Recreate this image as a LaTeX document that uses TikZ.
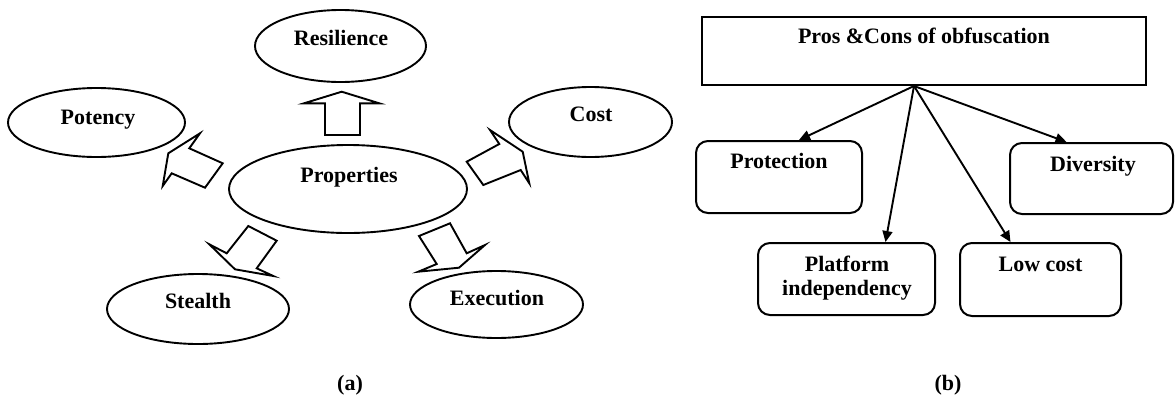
\documentclass[tikz,border=0pt]{standalone}
\usepackage{fontspec}
\setmainfont{Liberation Serif}
\usetikzlibrary{shapes.geometric,arrows.meta,calc}
\begin{document}
\begin{tikzpicture}[x=1pt,y=-1pt,
  ell/.style={draw, ellipse, line width=1.9pt, inner sep=0pt},
  bx/.style={draw, line width=2pt, inner sep=0pt, rounded corners=12pt},
  topbox/.style={draw, line width=2pt, inner sep=0pt},
  txt/.style={anchor=base, inner sep=0pt, align=center, font=\fontsize{22}{24}\selectfont\bfseries},
  blk/.style={draw, line width=1.9pt, line join=miter},
  con/.style={line width=1.9pt, -{Triangle[length=11pt,width=10pt]}}]

\fill[white] (0,0) rectangle (1175,397);
\useasboundingbox (0,0) rectangle (1175,397);

% (a) ellipses
\node[ell, minimum width=171pt, minimum height=72pt] (res) at (340.5,46) {};
\node[ell, minimum width=177pt, minimum height=69pt] (pot) at (96.5,122.5) {};
\node[ell, minimum width=163pt, minimum height=70pt] (cost) at (590.5,122) {};
\node[ell, minimum width=238pt, minimum height=88pt] (prop) at (348,189) {};
\node[ell, minimum width=182pt, minimum height=70pt] (ste) at (198,309) {};
\node[ell, minimum width=173pt, minimum height=67pt] (exe) at (496.5,304.5) {};

\node[txt] (tres) at (341,45) {Resilience};
\node[txt] (tpot) at (98,124) {Potency};
\node[txt] (tcost) at (591,121) {Cost};
\node[txt] (tprop) at (349,182) {Properties};
\node[txt] (tste) at (198,308) {Stealth};
\node[txt] (texe) at (497,305) {Execution};

% (a) block arrows
\draw[blk] (325,135) -- (360,135) -- (360,103.3) -- (379.3,103.3) -- (341.7,91.7) -- (304,103.3) -- (325,103.3) -- cycle;
\draw[blk] (222.7,163.3) -- (189.3,148.3) -- (200,133.3) -- (168.3,153.3) -- (162.7,186) -- (171.7,173.3) -- (205,187.7) -- cycle;
\draw[blk] (466.7,161.7) -- (499.3,144) -- (490,130) -- (522.7,151.7) -- (529.3,183.3) -- (520.7,170) -- (483.3,185) -- cycle;
\draw[blk] (248.3,226) -- (226.7,253.3) -- (209.3,244.3) -- (235,269.3) -- (273.3,276) -- (256.7,268.3) -- (276.7,240.7) -- cycle;
\draw[blk] (419,236) -- (436.7,264) -- (418.3,271.7) -- (459,267.7) -- (485,245) -- (466.7,253.3) -- (450,223.3) -- cycle;

\node[txt] (la) at (350,390) {(a)};

% (b)
\node[topbox, minimum width=444pt, minimum height=68pt] (top) at (924,51) {};
\node[bx, minimum width=166pt, minimum height=72pt] (prot) at (779,177) {};
\node[bx, minimum width=163pt, minimum height=71pt] (div) at (1091.5,178.5) {};
\node[bx, minimum width=177pt, minimum height=72pt] (plat) at (846.5,279) {};
\node[bx, minimum width=161pt, minimum height=73pt] (low) at (1040.5,279.5) {};

\node[txt] (ttop) at (924,43) {Pros \&Cons of obfuscation};
\node[txt] (tprot) at (779,168) {Protection};
\node[txt] (tdiv) at (1093,171) {Diversity};
\node[txt] (tplat) at (847,295) {Platform\\independency};
\node[txt] (tlow) at (1040.5,271) {Low cost};

\coordinate (fan) at ($(top.south)+(-10,0)$);
\draw[con] (fan) -- ($(prot.north)+(20,0)$);
\draw[con] (fan) -- ($(plat.north)+(39,0)$);
\draw[con] (fan) -- ($(low.north)+(-30,0)$);
\draw[con] (fan) -- ($(div.north)+(-25,0)$);

\node[txt] (lb) at (948,390) {(b)};
\end{tikzpicture}
\end{document}
